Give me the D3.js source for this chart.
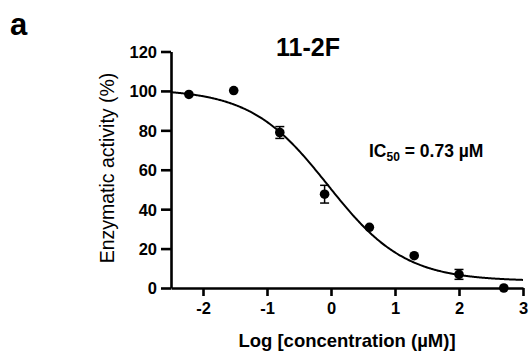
<!DOCTYPE html>
<html>
<head>
<meta charset="utf-8">
<script src="https://cdn.jsdelivr.net/npm/d3@7"></script>
<style>
  body { margin: 0; background: #fff; }
  text { font-family: "Liberation Sans", Arial, sans-serif; font-weight: bold; fill: #000; }
</style>
</head>
<body>
<div id="chart"></div>
<script>
// data
var logConc = [-2.22, -1.52, -0.80, -0.10, 0.60, 1.30, 2.00, 2.70];
var activity = [98.2, 100.2, 78.9, 47.6, 30.8, 16.4, 6.9, 0.0];
var sem = [0, 0, 3, 4.5, 0, 0, 2.5, 0];
var xTicks = [-2, -1, 0, 1, 2, 3];
var yTicks = [0, 20, 40, 60, 80, 100, 120];
// fitted 4PL curve params
var fitTop = 101, fitBottom = 3.5, fitLogIC50 = -0.05, fitHill = 0.72;

var width = 529, height = 355;

var svg = d3.select("#chart")
  .append("svg")
  .attr("width", width)
  .attr("height", height);

var x = d3.scaleLinear().domain([-2.5, 3]).range([171, 523]);
var y = d3.scaleLinear().domain([0, 120]).range([288, 51.5]);

// axes
var xAxis = svg.append("g")
  .attr("transform", "translate(0," + y(0) + ")")
  .call(d3.axisBottom(x).tickValues(xTicks).tickFormat(function(d) { return String(d); })
    .tickSize(8).tickPadding(6).tickSizeOuter(0));
var yAxis = svg.append("g")
  .attr("transform", "translate(" + x(-2.5) + ",0)")
  .call(d3.axisLeft(y).tickValues(yTicks).tickFormat(function(d) { return String(d); })
    .tickSize(10).tickPadding(4).tickSizeOuter(0));

[xAxis, yAxis].forEach(function(g) {
  g.select(".domain").attr("stroke", "#000").attr("stroke-width", 2.6);
  g.selectAll(".tick line").attr("stroke", "#000").attr("stroke-width", 2.6);
  g.selectAll(".tick text")
    .attr("fill", "#000")
    .style("font-size", "16.5px")
    .style("font-family", "'Liberation Sans', Arial, sans-serif")
    .style("font-weight", "bold");
});
yAxis.selectAll(".tick text").attr("dy", "0.36em");

// fitted curve
var curveX = d3.range(-2.5, 3.001, 0.02);
var line = d3.line()
  .x(function(d) { return x(d); })
  .y(function(d) {
    return y(fitBottom + (fitTop - fitBottom) / (1 + Math.pow(10, fitHill * (d - fitLogIC50))));
  })
  .curve(d3.curveBasis);

svg.append("path")
  .datum(curveX)
  .attr("fill", "none")
  .attr("stroke", "#000")
  .attr("stroke-width", 2)
  .attr("d", line);

// error bars
var points = logConc.map(function(d, i) { return { x: d, y: activity[i], e: sem[i] }; });
var errs = svg.selectAll(".err")
  .data(points.filter(function(d) { return d.e > 0; }))
  .enter().append("g")
  .attr("class", "err")
  .attr("stroke", "#000")
  .attr("stroke-width", 1.5);
errs.append("line")
  .attr("x1", function(d) { return x(d.x); })
  .attr("x2", function(d) { return x(d.x); })
  .attr("y1", function(d) { return y(d.y + d.e); })
  .attr("y2", function(d) { return y(d.y - d.e); });
errs.each(function(d) {
  var g = d3.select(this);
  [d.y + d.e, d.y - d.e].forEach(function(v) {
    g.append("line")
      .attr("x1", x(d.x) - 4.5).attr("x2", x(d.x) + 4.5)
      .attr("y1", y(v)).attr("y2", y(v));
  });
});

// points
svg.selectAll(".pt")
  .data(points)
  .enter().append("circle")
  .attr("class", "pt")
  .attr("cx", function(d) { return x(d.x); })
  .attr("cy", function(d) { return y(d.y); })
  .attr("r", 4.8)
  .attr("fill", "#000");

// labels
svg.append("text")
  .attr("x", 10).attr("y", 35)
  .style("font-size", "31px")
  .text("a");

svg.append("text")
  .attr("x", 308).attr("y", 56)
  .attr("text-anchor", "middle")
  .style("font-size", "25px")
  .text("11-2F");

var ic = svg.append("text")
  .attr("x", 369).attr("y", 157)
  .style("font-size", "17.5px");
ic.append("tspan").text("IC");
ic.append("tspan").attr("dy", 4).style("font-size", "12px").text("50");
ic.append("tspan").attr("dy", -4).text(" = 0.73 µM");

svg.append("text")
  .attr("x", 347).attr("y", 347)
  .attr("text-anchor", "middle")
  .style("font-size", "18.5px")
  .text("Log [concentration (µM)]");

svg.append("text")
  .attr("transform", "translate(114,168) rotate(-90)")
  .attr("text-anchor", "middle")
  .style("font-size", "19.5px")
  .style("font-weight", "normal")
  .text("Enzymatic activity (%)");
</script>
</body>
</html>
